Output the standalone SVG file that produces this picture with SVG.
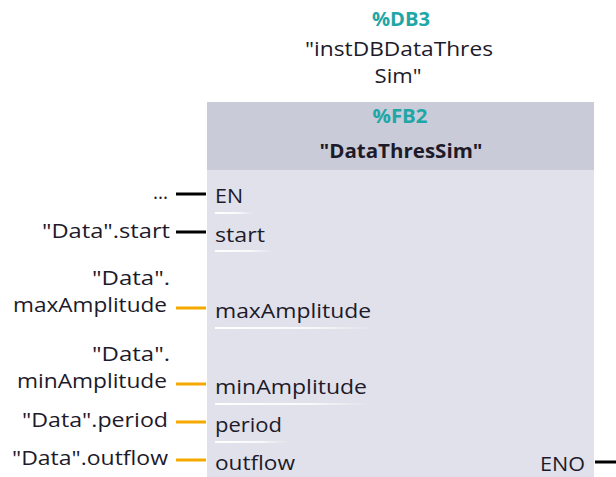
<svg xmlns="http://www.w3.org/2000/svg" width="616" height="477" viewBox="0 0 616 477">
<defs>
<linearGradient id="ul" x1="0" y1="0" x2="1" y2="0">
<stop offset="0" stop-color="#ffffff" stop-opacity="1"/>
<stop offset="0.6" stop-color="#ffffff" stop-opacity="0.8"/>
<stop offset="1" stop-color="#ffffff" stop-opacity="0"/>
</linearGradient>
<style>
text{font-family:"Open Sans","Noto Sans","Liberation Sans",sans-serif;font-size:20px;fill:#1d1a2a}
.teal{fill:#1fa6a6;font-weight:bold}
.title{font-weight:bold}
.l{text-anchor:end}
.c{text-anchor:middle}
.bool{stroke:#000;stroke-width:3;fill:none}
.num{stroke:#f7a800;stroke-width:3;fill:none}
.ul{fill:url(#ul)}
</style>
</defs>
<rect width="616" height="477" fill="#ffffff"/>
<g id="instance">
<text class="teal c" x="401" y="26" textLength="58" lengthAdjust="spacingAndGlyphs">%DB3</text>
<text class="c" x="399" y="56" textLength="188" lengthAdjust="spacingAndGlyphs">"instDBDataThres</text>
<text class="c" x="398" y="83" textLength="47" lengthAdjust="spacingAndGlyphs">Sim"</text>
</g>
<g id="block">
<rect x="207" y="102" width="387" height="380" fill="#e0e1ea"/>
<rect x="207" y="102" width="387" height="68" fill="#c9cbd8"/>
<text class="teal c" x="400" y="123" textLength="55" lengthAdjust="spacingAndGlyphs">%FB2</text>
<text class="title c" x="401" y="158" textLength="163" lengthAdjust="spacingAndGlyphs">"DataThresSim"</text>
</g>
<g id="pins">
<text x="215" y="203" textLength="28" lengthAdjust="spacingAndGlyphs">EN</text>
<rect class="ul" x="215" y="212" width="38" height="2"/>
<text x="215" y="242" textLength="50" lengthAdjust="spacingAndGlyphs">start</text>
<rect class="ul" x="215" y="250" width="58" height="2"/>
<text x="215" y="318" textLength="156" lengthAdjust="spacingAndGlyphs">maxAmplitude</text>
<rect class="ul" x="215" y="327" width="160" height="2"/>
<text x="215" y="394" textLength="152" lengthAdjust="spacingAndGlyphs">minAmplitude</text>
<rect class="ul" x="215" y="403" width="156" height="2"/>
<text x="215" y="432" textLength="67" lengthAdjust="spacingAndGlyphs">period</text>
<rect class="ul" x="215" y="441" width="75" height="2"/>
<text x="215" y="470" textLength="80" lengthAdjust="spacingAndGlyphs">outflow</text>
<text class="l" x="585" y="471" textLength="45" lengthAdjust="spacingAndGlyphs">ENO</text>
</g>
<g id="operands">
<text class="l" x="168" y="199" textLength="15" lengthAdjust="spacingAndGlyphs">...</text>
<text class="l" x="170" y="238" textLength="128" lengthAdjust="spacingAndGlyphs">"Data".start</text>
<text class="l" x="170" y="285" textLength="78" lengthAdjust="spacingAndGlyphs">"Data".</text>
<text class="l" x="167" y="312" textLength="154" lengthAdjust="spacingAndGlyphs">maxAmplitude</text>
<text class="l" x="170" y="361" textLength="78" lengthAdjust="spacingAndGlyphs">"Data".</text>
<text class="l" x="167" y="388" textLength="150" lengthAdjust="spacingAndGlyphs">minAmplitude</text>
<text class="l" x="168" y="427" textLength="146" lengthAdjust="spacingAndGlyphs">"Data".period</text>
<text class="l" x="168" y="465" textLength="156" lengthAdjust="spacingAndGlyphs">"Data".outflow</text>
</g>
<g id="connectors">
<line class="bool" x1="176" y1="194" x2="206" y2="194"/>
<line class="bool" x1="176" y1="232" x2="206" y2="232"/>
<line class="num" x1="176" y1="308" x2="206" y2="308"/>
<line class="num" x1="176" y1="384" x2="206" y2="384"/>
<line class="num" x1="176" y1="422" x2="206" y2="422"/>
<line class="num" x1="176" y1="460" x2="206" y2="460"/>
<line class="bool" x1="595" y1="462" x2="616" y2="462"/>
</g>
</svg>
